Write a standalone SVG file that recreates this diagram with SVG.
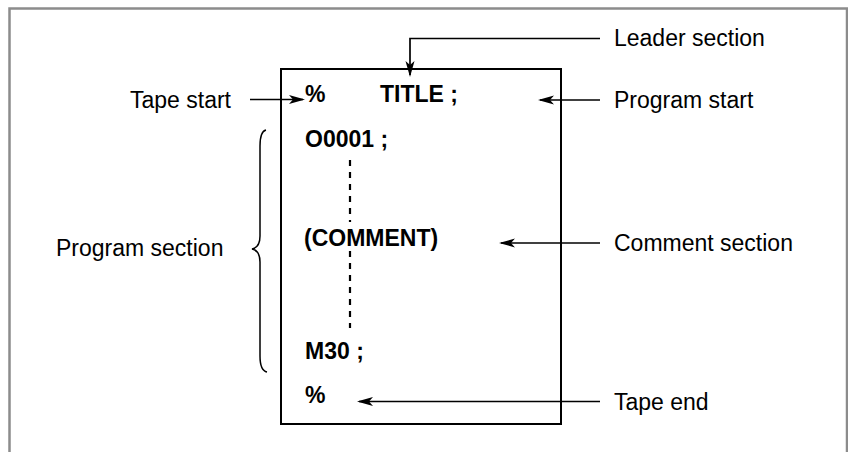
<svg xmlns="http://www.w3.org/2000/svg" width="848" height="452" viewBox="0 0 848 452">
<style>
.lbl{font-family:"Liberation Sans",Arial,sans-serif;font-size:23px;fill:#000}
.code{font-family:"Liberation Sans",Arial,sans-serif;font-size:23px;font-weight:bold;fill:#000}
.arr{stroke:#000;stroke-width:1.7;fill:none;marker-end:url(#ah)}
</style>
<defs>
<marker id="ah" viewBox="-18 -6 19 12" markerWidth="19" markerHeight="12" markerUnits="userSpaceOnUse" refX="-2" refY="0" orient="auto">
<path d="M0,0 L-16,-4.5 L-12,0 L-16,4.5 Z" fill="#000"/>
</marker>
</defs>
<rect x="9.5" y="8.5" width="837.5" height="470" fill="#fff" stroke="#8c8c8c" stroke-width="2.5"/>
<g id="program-box">
<rect x="281" y="69" width="280" height="355" fill="none" stroke="#000" stroke-width="2"/>
<text class="code" x="305" y="102">%</text>
<text class="code" x="380" y="102">TITLE ;</text>
<text class="code" x="305" y="147">O0001 ;</text>
<text class="code" x="304" y="246">(COMMENT)</text>
<text class="code" x="305" y="359">M30 ;</text>
<text class="code" x="305" y="403">%</text>
<path d="M350,160 V222 M350,251 V328" stroke="#000" stroke-width="2.2" stroke-dasharray="6 6" fill="none"/>
</g>
<g id="label-leader"><text class="lbl" x="614" y="46">Leader section</text></g>
<g id="label-tape-start"><text class="lbl" x="130" y="108">Tape start</text></g>
<g id="label-program-start"><text class="lbl" x="614" y="108">Program start</text></g>
<g id="label-program-section"><text class="lbl" x="56" y="256">Program section</text></g>
<g id="label-comment"><text class="lbl" x="614" y="251">Comment section</text></g>
<g id="label-tape-end"><text class="lbl" x="614" y="410">Tape end</text></g>
<g id="connectors">
<path class="arr" d="M600,38.5 H410 V75"/>
<path class="arr" d="M250,99.5 H303"/>
<path class="arr" d="M600,100 H540"/>
<path class="arr" d="M600,243 H501"/>
<path class="arr" d="M600,401.5 H359"/>
<path d="M266,130 C261.5,131 260,136 260,146 L260,236 C260,244 257,248 252,249 C257,250 260,254 260,262 L260,356 C260,366 262,371 267,372" stroke="#000" stroke-width="1.5" fill="none"/>
</g>
</svg>
